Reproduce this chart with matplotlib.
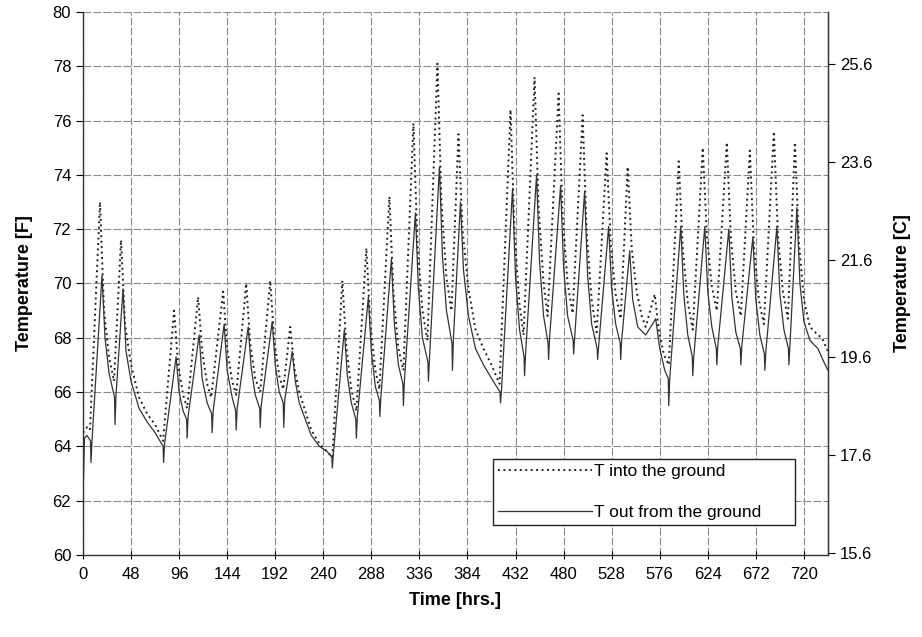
import matplotlib
matplotlib.use("Agg")
import matplotlib.pyplot as plt

plt.rcParams['font.family'] = ['Liberation Sans', 'DejaVu Sans']

# T into the ground (dotted) - hours, deg F
t_in = [0, 4, 7, 17, 21, 26, 31, 38, 42, 48, 56, 64, 72, 80,
        91, 95, 100, 104,
        115, 119, 124, 128,
        140, 144, 149, 153,
        163, 167, 172, 177,
        187, 191, 196, 200,
        207, 211, 216, 222, 228, 236, 244, 249,
        259, 263, 268, 273,
        283, 287, 292, 296,
        306, 310, 315, 320,
        330, 334, 339, 344,
        354, 358, 363, 368,
        375, 379, 385, 392, 400, 408, 416,
        427, 431, 436, 440,
        451, 455, 460, 464,
        475, 479, 484, 489,
        499, 503, 508, 513,
        523, 527, 532, 537,
        544, 548, 553, 558, 562,
        571, 575, 580, 585,
        595, 599, 604, 609,
        619, 623, 628, 633,
        643, 647, 652, 657,
        666, 670, 675, 680,
        690, 694, 699, 704,
        711, 715, 720, 726, 734, 738, 744]
f_in = [64.5, 64.7, 64.6, 73.0, 69.0, 67.3, 66.4, 71.6, 68.5, 67.0, 65.8, 65.2, 64.8, 64.2,
        69.0, 67.0, 65.9, 65.4,
        69.5, 67.5, 66.3, 65.8,
        69.7, 67.6, 66.4, 65.9,
        70.0, 67.8, 66.5, 66.0,
        70.1, 67.9, 66.6, 66.1,
        68.4, 66.9, 66.0, 65.3, 64.6, 64.1, 63.8, 63.6,
        70.1, 67.7, 66.1, 65.3,
        71.3, 68.5, 66.8, 66.1,
        73.2, 69.7, 67.6, 66.8,
        75.9, 71.5, 69.0, 67.9,
        78.1, 73.0, 70.2, 69.0,
        75.5, 72.0, 69.8, 68.3, 67.6, 67.0, 66.3,
        76.4, 71.8, 69.2, 68.1,
        77.6, 72.8, 70.0, 68.8,
        77.0, 72.5, 70.0, 68.9,
        76.2, 71.9, 69.4, 68.2,
        74.8, 71.5, 69.6, 68.7,
        74.3, 71.3, 69.7, 68.8, 68.4,
        69.6, 68.3, 67.4, 67.0,
        74.5, 71.3, 69.3, 68.3,
        75.0, 71.8, 69.9, 69.0,
        75.2, 71.7, 69.7, 68.8,
        74.9, 71.4, 69.4, 68.5,
        75.6, 71.8, 69.7, 68.7,
        75.2, 71.5, 69.4, 68.4, 68.1, 68.0, 67.5]

# T out from the ground (solid) - hours, deg F
t_out = [0, 0.5, 1.5, 4, 7.5, 8, 9, 19, 22, 26, 31.5, 32, 33, 40, 43, 48, 56, 64, 72, 80, 80.5, 81.5,
         93, 96, 100, 103.5, 104, 105,
         116, 119, 124, 128.5, 129, 130,
         141, 144, 149, 152.5, 153, 154,
         165, 168, 172, 176.5, 177, 178,
         189, 192, 196, 200, 200.5, 201.5,
         209, 212, 216, 222, 228, 236, 244, 248.5, 249, 250,
         261, 264, 268, 272.5, 273, 274,
         285, 288, 292, 296, 296.5, 297.5,
         308, 311, 315, 319.5, 320, 321,
         332, 335, 339, 344.5, 345, 346,
         356, 359, 363, 368.5, 369, 370,
         377, 380, 385, 392, 400, 408, 416.5, 417, 418,
         429, 432, 436, 440.5, 441, 442,
         453, 456, 460, 464.5, 465, 466,
         477, 480, 484, 489.5, 490, 491,
         501, 504, 508, 513.5, 514, 515,
         525, 528, 532, 536.5, 537, 538,
         546, 549, 554, 562, 572, 576, 581, 584.5, 585, 586,
         597, 600, 604, 608.5, 609, 610,
         621, 624, 628, 632.5, 633, 634,
         645, 648, 652, 656.5, 657, 658,
         669, 672, 676, 680.5, 681, 682,
         693, 696, 700, 704.5, 705, 706,
         713, 716, 720, 726, 734, 740, 744]
f_out = [64.2, 62.8, 64.3, 64.4, 64.2, 63.4, 64.2, 70.3, 68.0, 66.7, 65.8, 64.8, 65.9, 69.8, 67.5, 66.4, 65.4, 64.9, 64.5, 64.0, 63.4, 64.1,
         67.3, 66.0, 65.3, 65.0, 64.3, 65.1,
         68.1, 66.5, 65.6, 65.2, 64.5, 65.3,
         68.5, 66.8, 65.8, 65.3, 64.6, 65.4,
         68.4, 66.9, 65.9, 65.4, 64.7, 65.5,
         68.6, 67.0, 66.0, 65.6, 64.7, 65.7,
         67.5, 66.4, 65.6, 65.0, 64.4, 64.0, 63.8, 63.6, 63.2, 63.7,
         68.3, 66.6, 65.6, 65.0, 64.3, 65.1,
         69.5, 67.5, 66.2, 65.7, 65.1, 65.8,
         70.9, 68.5, 67.0, 66.3, 65.5, 66.4,
         72.6, 69.8, 68.0, 67.1, 66.4, 67.2,
         74.3, 71.0, 69.0, 67.8, 66.8, 68.0,
         73.0, 70.5, 68.8, 67.6, 67.0, 66.5, 66.0, 65.6, 66.1,
         73.5, 70.2, 68.3, 67.3, 66.6, 67.4,
         74.0, 70.8, 68.8, 67.8, 67.2, 68.0,
         73.6, 70.6, 68.8, 67.9, 67.4, 68.0,
         73.4, 70.3, 68.5, 67.6, 67.2, 67.7,
         72.1, 69.8, 68.5, 67.8, 67.2, 67.9,
         71.2, 69.4, 68.4, 68.1, 68.7, 67.6, 66.8, 66.5, 65.5, 66.5,
         72.1, 69.6, 68.1, 67.3, 66.6, 67.3,
         72.1, 69.7, 68.4, 67.6, 67.0, 67.7,
         72.0, 69.5, 68.2, 67.6, 67.0, 67.7,
         71.7, 69.4, 68.1, 67.4, 66.8, 67.5,
         72.1, 69.6, 68.3, 67.6, 67.0, 67.7,
         72.8, 70.0, 68.6, 67.9, 67.6, 67.1, 66.8]

x_ticks = list(range(0, 721, 48))
f_ticks = list(range(60, 81, 2))
c_ticks = [15.6, 17.6, 19.6, 21.6, 23.6, 25.6]


def f2c(f):
    return (f - 32) * 5.0 / 9.0


def c2f(c):
    return c * 9.0 / 5.0 + 32


fig = plt.figure(figsize=(9.22, 6.37), dpi=100)
ax = fig.add_axes([0.090, 0.129, 0.808, 0.852])

ax.plot(t_in, f_in, color='#222222', lw=1.4, linestyle=(0, (1, 1.8)), label='T into the ground')
ax.plot(t_out, f_out, color='#333333', lw=0.9, linestyle='-', label='T out from the ground')

ax.set_xlim(0, 744)
ax.set_ylim(60, 80)
ax.set_xticks(x_ticks)
ax.set_yticks(f_ticks)
ax.grid(True, color='#8a8a8a', lw=0.8, linestyle=(0, (7, 2)))
ax.set_axisbelow(True)

ax.tick_params(axis='x', direction='inout', length=6, labelsize=12, pad=6)
ax.tick_params(axis='y', direction='out', length=5, labelsize=12)
for side in ['left', 'bottom', 'right']:
    ax.spines[side].set_color('#333333')
    ax.spines[side].set_linewidth(1.0)
ax.spines['top'].set_visible(False)

ax.set_xlabel('Time [hrs.]', fontsize=13, fontweight='bold', labelpad=7)
ax.set_ylabel('Temperature [F]', fontsize=13, fontweight='bold', labelpad=14)

sec = ax.secondary_yaxis('right', functions=(f2c, c2f))
sec.set_yticks(c_ticks)
sec.set_yticklabels(['%.1f' % c for c in c_ticks])
sec.tick_params(direction='out', length=5, labelsize=12)
sec.set_ylabel('Temperature [C]', fontsize=13, fontweight='bold', labelpad=16)

leg = ax.legend(loc='lower left', bbox_to_anchor=(0.55, 0.055, 0.406, 0.13), mode='expand',
                fontsize=12.5, frameon=True, fancybox=False, handlelength=5.4,
                handletextpad=0.15, borderpad=0.3, borderaxespad=0, labelspacing=1.45)
leg.get_frame().set_edgecolor('#222222')
leg.get_frame().set_linewidth(1.0)
leg.get_frame().set_alpha(1.0)

fig.savefig('out.png', dpi=100)
